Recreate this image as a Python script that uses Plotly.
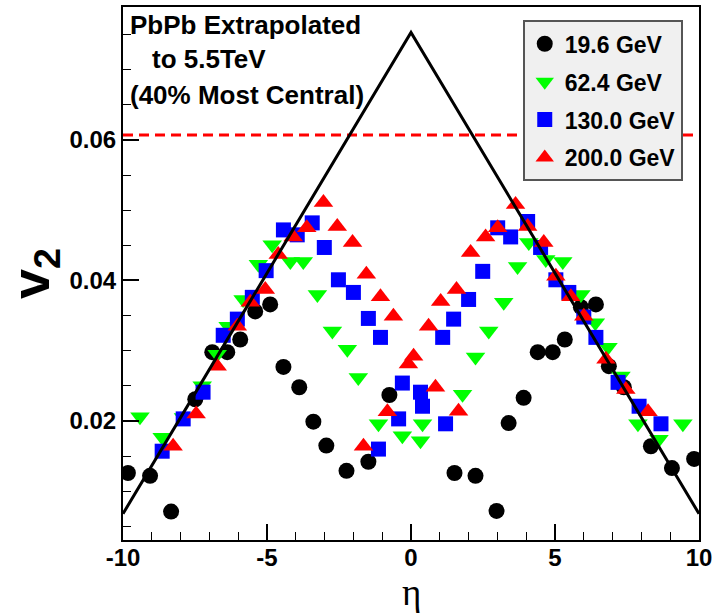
import plotly.graph_objects as go

# ---- data ----
black_eta = [-9.83, -9.06, -8.33, -7.49, -6.90, -6.38, -5.93, -5.41, -4.89, -4.43, -3.88, -3.39, -2.94, -2.24, -1.48, -0.75,
             1.51, 2.24, 2.97, 3.39, 3.91, 4.40, 4.92, 5.34, 5.90, 6.42, 6.87, 7.39, 8.33, 9.06, 9.83]
black_v = [0.0126, 0.0122, 0.0071, 0.0231, 0.0298, 0.0298, 0.0316, 0.0356, 0.0366, 0.0277, 0.0248, 0.0199, 0.0165, 0.0129, 0.0142, 0.0237,
           0.0126, 0.0122, 0.0072, 0.0197, 0.0233, 0.0298, 0.0298, 0.0316, 0.0362, 0.0366, 0.0278, 0.0248, 0.0164, 0.0133, 0.0146]

green_eta = [-9.41, -8.64, -7.90, -7.25, -6.73, -6.35, -5.83, -5.30, -4.82, -4.19, -3.74, -3.25, -2.73, -2.21, -1.83, -1.13,
             -0.30, 0.33, 0.40, 1.79, 2.24, 2.70, 3.22, 3.70, 4.09, 4.68, 5.27, 5.90, 6.40, 6.84, 7.29, 7.88, 8.61, 9.44]
green_v = [0.0206, 0.0177, 0.0205, 0.0250, 0.0295, 0.0335, 0.0373, 0.0423, 0.0451, 0.0427, 0.0427, 0.0380, 0.0328, 0.0302, 0.0262, 0.0196,
           0.0179, 0.0172, 0.0196, 0.0238, 0.0291, 0.0328, 0.0369, 0.0420, 0.0454, 0.0430, 0.0427, 0.0380, 0.0340, 0.0305, 0.0264, 0.0196, 0.0174, 0.0196]

blue_eta = [-8.64, -7.91, -7.22, -6.52, -6.03, -5.51, -5.03, -4.43, -3.95, -3.43, -3.01, -2.52, -2.00, -1.48, -1.06, -1.13,
            -0.30, -0.43, 0.33, 0.40, 1.10, 1.20, 1.48, 2.00, 2.49, 3.01, 3.46, 4.05, 4.50, 5.03, 5.48, 6.00, 6.42, 7.19, 7.92, 8.68]
blue_v = [0.0157, 0.0203, 0.0241, 0.0322, 0.0345, 0.0376, 0.0414, 0.0472, 0.0465, 0.0482, 0.0447, 0.0401, 0.0383, 0.0346, 0.0319, 0.0160,
          0.0254, 0.0203, 0.0241, 0.0221, 0.0319, 0.0196, 0.0345, 0.0373, 0.0413, 0.0475, 0.0462, 0.0484, 0.0447, 0.0401, 0.0383, 0.0348, 0.0319, 0.0255, 0.0221, 0.0196]

red_eta = [-8.26, -7.46, -6.73, -6.03, -5.58, -5.06, -4.61, -4.09, -3.62, -3.04, -2.56, -2.03, -1.55, -1.06, -0.61, -0.09, -0.82, -1.65,
           0.09, 0.61, 0.85, 1.03, 1.58, 1.65, 2.07, 2.59, 3.01, 3.63, 4.05, 4.61, 5.03, 5.55, 6.00, 6.77, 7.46, 8.23]
red_v = [0.0164, 0.0210, 0.0278, 0.0335, 0.0369, 0.0387, 0.0437, 0.0462, 0.0475, 0.0511, 0.0477, 0.0454, 0.0409, 0.0377, 0.0349, 0.0281, 0.0213, 0.0164,
         0.0292, 0.0335, 0.0248, 0.0370, 0.0387, 0.0214, 0.0440, 0.0462, 0.0475, 0.0508, 0.0477, 0.0454, 0.0406, 0.0377, 0.0349, 0.0288, 0.0245, 0.0213]

line_eta = [-10, 0, 10]
line_v = [0.0068, 0.0753, 0.0068]

lhc_eta = [-10, 10]
lhc_v = [0.0607, 0.0607]

series_names = ["19.6 GeV", "62.4 GeV", "130.0 GeV", "200.0 GeV"]
x_ticks = [-10, -5, 0, 5, 10]
x_tick_labels = ["-10", "-5", "0", "5", "10"]
y_ticks = [0.02, 0.04, 0.06]
y_tick_labels = ["0.02", "0.04", "0.06"]

FONT = "Liberation Sans"

fig = go.Figure()

fig.add_trace(go.Scatter(x=lhc_eta, y=lhc_v, mode="lines", showlegend=False,
                         line=dict(color="#ff0000", width=3, dash="10px,6px")))

specs = [
    (black_eta, black_v, "circle", "#000000", 16),
    (green_eta, green_v, "triangle-down", "#00ff00", 17),
    (blue_eta, blue_v, "square", "#0000ff", 15),
    (red_eta, red_v, "triangle-up", "#ff0000", 17),
]
for i, (xs, ys, sym, col, sz) in enumerate(specs):
    fig.add_trace(go.Scatter(x=xs, y=ys, mode="markers", name=f"<b>{series_names[i]}</b>",
                             legendgroup=f"g{i}",
                             marker=dict(symbol=sym, color=col, size=sz, line=dict(width=0))))

fig.add_trace(go.Scatter(x=line_eta, y=line_v, mode="lines", showlegend=False,
                         line=dict(color="#000000", width=3)))

fig.update_layout(
    width=723, height=616,
    margin=dict(l=123, r=24, t=7, b=76),
    paper_bgcolor="white", plot_bgcolor="white",
    font=dict(family=FONT, color="black"),
    showlegend=True,
    legend=dict(x=0.694, y=0.975, xanchor="left", yanchor="top",
                bgcolor="#f0f0f0", bordercolor="#555555", borderwidth=2,
                font=dict(family=FONT, size=23, color="black"),
                tracegroupgap=5, itemsizing="trace"),
    xaxis=dict(range=[-10, 10], tickvals=x_ticks, ticktext=[f"<b>{t}</b>" for t in x_tick_labels],
               automargin=False, ticklabelstandoff=-5,
               ticks="inside", ticklen=16, tickwidth=1.5,
               tickcolor="black", showline=True, linecolor="black", linewidth=2, mirror=True,
               showgrid=False, zeroline=False,
               tickfont=dict(family=FONT, size=24, color="black"),
               minor=dict(dtick=1, ticks="inside", ticklen=8, tickcolor="black", tickwidth=1.2)),
    yaxis=dict(range=[0.00306, 0.07893], tickvals=y_ticks, ticktext=[f"<b>{t}</b>" for t in y_tick_labels],
               automargin=False,
               ticks="inside", ticklen=16, tickwidth=1.5,
               tickcolor="black", showline=True, linecolor="black", linewidth=2, mirror=True,
               showgrid=False, zeroline=False,
               tickfont=dict(family=FONT, size=24, color="black"),
               minor=dict(dtick=0.005, tick0=0, ticks="inside", ticklen=8, tickcolor="black", tickwidth=1.2),
               title=dict(text="<b>v<sub>2</sub></b>", font=dict(family=FONT, size=54, color="black"), standoff=8)),
)

# x-axis title (eta) placed just below the tick labels
fig.add_annotation(xref="paper", yref="paper", x=0.5, y=-0.139, xanchor="center", yanchor="bottom",
                   text="η", showarrow=False, borderpad=0,
                   font=dict(family="Liberation Serif", size=37, color="black"))

ann_font = dict(family=FONT, size=26, color="black")
fig.add_annotation(xref="paper", yref="paper", x=0.008, y=0.967, xanchor="left", yanchor="middle",
                   text="<b>PbPb Extrapolated</b>", showarrow=False, font=ann_font)
fig.add_annotation(xref="paper", yref="paper", x=0.047, y=0.903, xanchor="left", yanchor="middle",
                   text="<b>to 5.5TeV</b>", showarrow=False, font=ann_font)
fig.add_annotation(xref="paper", yref="paper", x=0.008, y=0.835, xanchor="left", yanchor="middle",
                   text="<b>(40% Most Central)</b>", showarrow=False, font=ann_font)

fig.write_html("out.html")
